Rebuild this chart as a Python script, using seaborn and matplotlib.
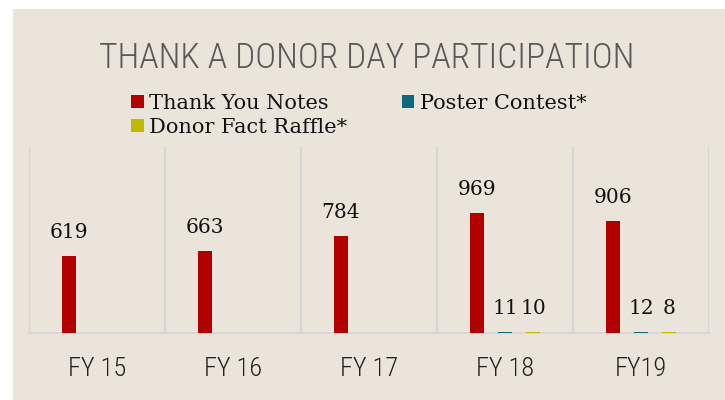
import numpy as np
import pandas as pd
import matplotlib
matplotlib.use("Agg")
import matplotlib.pyplot as plt
from matplotlib.patches import Patch, Rectangle
import seaborn as sns

# Participation counts per fiscal year
years = ["FY 15", "FY 16", "FY 17", "FY 18", "FY19"]
thank_you_notes = [619, 663, 784, 969, 906]
poster_contest = [np.nan, np.nan, np.nan, 11, 12]
donor_fact_raffle = [np.nan, np.nan, np.nan, 10, 8]

series_names = ["Thank You Notes", "Poster Contest*", "Donor Fact Raffle*"]
series_colors = ["#B00000", "#0F6A80", "#C0B900"]

title_text = "THANK A DONOR DAY PARTICIPATION"

df = pd.DataFrame({
    "year": years * 3,
    "series": sum([[s] * len(years) for s in series_names], []),
    "count": thank_you_notes + poster_contest + donor_fact_raffle,
}).dropna()

sns.set_theme(style="white")
narrow = ["Roboto Condensed", "Roboto", "DejaVu Sans"]
serif = ["DejaVu Serif"]

BG = "#EAE4DB"
GRID = "#D6D6D6"

fig = plt.figure(figsize=(7.25, 4.0), dpi=100, facecolor="white")
# beige panel behind everything
fig.patches.append(Rectangle((13 / 725, 0), 1 - 13 / 725, 1 - 9 / 400,
                             transform=fig.transFigure, facecolor=BG,
                             edgecolor="none", zorder=-10))

ax = fig.add_axes([29 / 725, 1 - 333 / 400, 680 / 725, 186 / 400])
ax.set_facecolor("none")

sns.barplot(data=df, x="year", y="count", hue="series", order=years,
            hue_order=series_names, palette=series_colors, width=0.618,
            gap=0.48, saturation=1, legend=False, ax=ax, errorbar=None,
            linewidth=0)
# keep the short bars visible above the baseline
for bar in ax.patches:
    bar.set_zorder(3)

ax.set_xlim(-0.5, len(years) - 0.5)
ax.set_ylim(0, 1500)
ax.set_xlabel("")
ax.set_ylabel("")
ax.set_yticks([])

# category separators
ax.set_xticks(np.arange(-0.5, len(years)), minor=True)
ax.grid(which="minor", axis="x", color=GRID, linewidth=1.5)
ax.grid(which="major", visible=False)
ax.tick_params(axis="x", which="both", length=0, pad=17)
for lab in ax.get_xticklabels():
    lab.set_fontfamily(narrow)
    lab.set_fontweight("light")
    lab.set_fontsize(19)
    lab.set_color("#222222")

for side in ["top", "right", "left"]:
    ax.spines[side].set_visible(False)
ax.spines["bottom"].set_color(GRID)
ax.spines["bottom"].set_linewidth(1.5)

for cont in ax.containers:
    ax.bar_label(cont, fmt="%d", padding=10, fontsize=14.5,
                 family=serif, color="#111111")

fig.text(0.5055, 1 - 68 / 400, title_text, ha="center", va="baseline",
         fontsize=25.5, family=narrow, fontweight="light", color="#595959")

handles = [Patch(facecolor=c, edgecolor="none") for c in series_colors]
order = [0, 2, 1]
fig.legend([handles[i] for i in order], [series_names[i] for i in order],
           ncol=2, loc="upper left", bbox_to_anchor=(131 / 725, 1 - 94 / 400),
           frameon=False, prop={"family": serif, "size": 15},
           handlelength=0.6, handleheight=0.6, handletextpad=0.28,
           columnspacing=2.6, labelspacing=0.24, borderpad=0,
           borderaxespad=0, labelcolor="#111111")

fig.savefig("out.png", dpi=100, facecolor=fig.get_facecolor())
